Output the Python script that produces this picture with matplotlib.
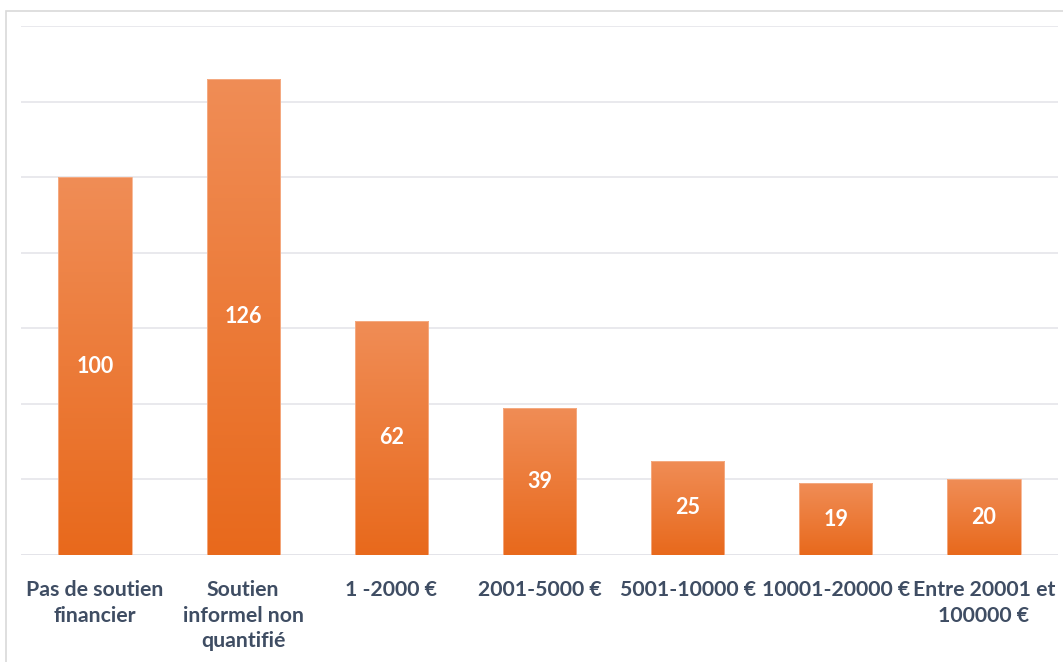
import matplotlib
matplotlib.use("Agg")
import matplotlib.pyplot as plt
import numpy as np
from matplotlib.patches import Rectangle
from matplotlib.colors import LinearSegmentedColormap

categories = ["Pas de soutien\nfinancier", "Soutien\ninformel non\nquantifié", "1 -2000 €",
              "2001-5000 €", "5001-10000 €", "10001-20000 €", "Entre 20001 et\n100000 €"]
values = [100, 126, 62, 39, 25, 19, 20]

W, H = 1063, 662
fig = plt.figure(figsize=(W / 100, H / 100), dpi=100)
fig.patch.set_facecolor("white")

# outer chart border (extends past the right/bottom edge)
fig.patches.append(Rectangle((6 / W, -0.1), 1.1, 1 - 11 / H + 0.1, transform=fig.transFigure,
                             fill=False, edgecolor="#D9D9D9", linewidth=1.2))

ax = fig.add_axes([21 / W, (H - 555) / H, (1058 - 21) / W, (555 - 26) / H])
ax.set_xlim(-0.5, len(values) - 0.5)
ax.set_ylim(0, 140)
ax.set_yticks(np.arange(0, 141, 20))
ax.yaxis.grid(True, color="#E3E3E8", linewidth=1.1)
ax.set_axisbelow(True)
for s in ax.spines.values():
    s.set_visible(False)
ax.tick_params(axis="y", left=False, labelleft=False)
ax.tick_params(axis="x", bottom=False, pad=14.5)

x = np.arange(len(values))
bars = ax.bar(x, values, width=0.495, color="none", edgecolor="#F6B08A", linewidth=0.6, zorder=2)

cmap = LinearSegmentedColormap.from_list("g", ["#E8691C", "#F08D56"])
grad = np.linspace(0, 1, 256).reshape(-1, 1)
for b in bars:
    x0, y0 = b.get_x(), b.get_y()
    w, h = b.get_width(), b.get_height()
    im = ax.imshow(grad, cmap=cmap, origin="lower", aspect="auto",
                   extent=[x0, x0 + w, y0, y0 + h], zorder=1.5, interpolation="bicubic")
    im.set_clip_path(b)
ax.set_xlim(-0.5, len(values) - 0.5)
ax.set_ylim(0, 140)

for xi, v in zip(x, values):
    ax.text(xi, v / 2, str(v), ha="center", va="center", color="white",
            fontsize=15.5, fontweight="bold", family="Lato", zorder=3)

ax.set_xticks(x)
ax.set_xticklabels(categories, fontsize=15.3, fontweight="bold", family="Lato",
                   color="#3F4D63", linespacing=1.35, va="top")
# baseline
ax.axhline(0, color="#E3E3E8", linewidth=1.1, zorder=1)

fig.savefig("out.png", dpi=100)
